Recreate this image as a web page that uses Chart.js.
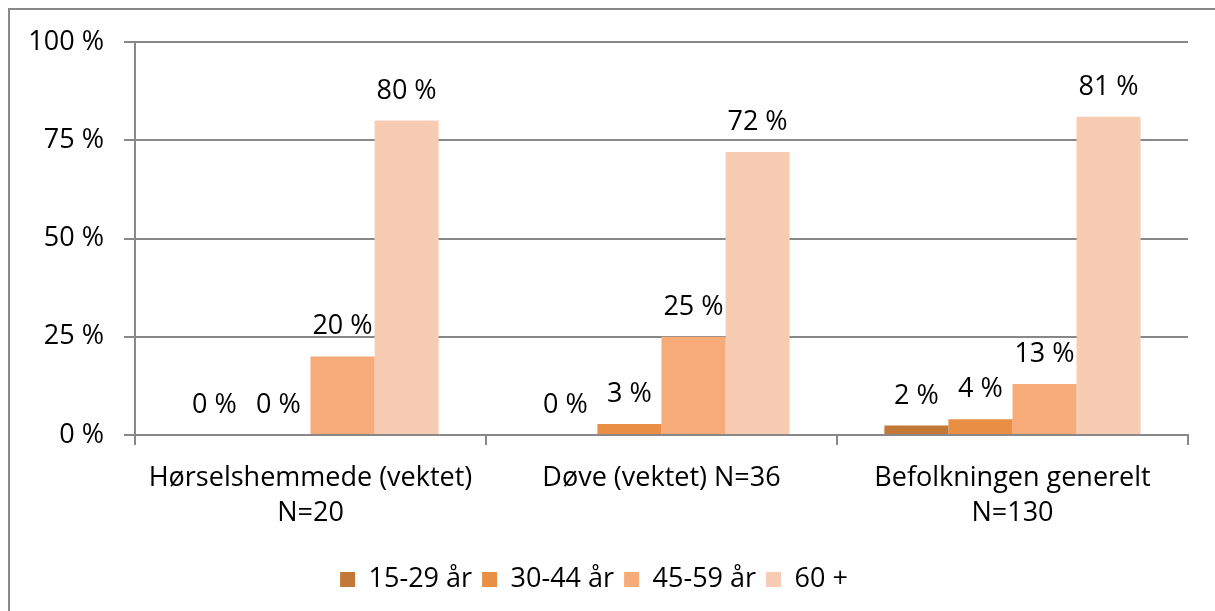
<!DOCTYPE html>
<html>
<head>
<meta charset="utf-8">
<script src="https://cdn.jsdelivr.net/npm/chart.js@4"></script>
<style>
  html, body { margin: 0; padding: 0; background: #fff; }
  #wrap { position: relative; width: 1215px; height: 611px; overflow: hidden; }
  #frame { position: absolute; left: 8px; top: 8px; width: 1300px; height: 700px;
           border-left: 2px solid #888; border-top: 2px solid #888; }
  canvas { position: absolute; left: 0; top: 0; }
</style>
</head>
<body>
<div id="wrap">
  <div id="frame"></div>
  <canvas id="chart" width="1215" height="611"></canvas>
</div>
<script>
const kategorier = [
  ['Hørselshemmede (vektet)', 'N=20'],
  ['Døve (vektet) N=36'],
  ['Befolkningen generelt', 'N=130']
];
const serier = ['15-29 år', '30-44 år', '45-59 år', '60 +'];
const alder15_29 = [0, 0, 2.4];
const alder30_44 = [0, 2.8, 4];
const alder45_59 = [20, 25, 13];
const alder60 = [80, 72, 81];
const etiketter = [
  ['0 %', '0 %', '2 %'],
  ['0 %', '3 %', '4 %'],
  ['20 %', '25 %', '13 %'],
  ['80 %', '72 %', '81 %']
];
const farger = ['#C47838', '#E88E45', '#F6AB79', '#F8CBB3'];
const yTicks = [0, 25, 50, 75, 100];

const FONT = '"Open Sans", Lato, sans-serif';
const FS = 27;

const verdiEtiketter = {
  id: 'verdiEtiketter',
  afterDatasetsDraw(chart) {
    const ctx = chart.ctx;
    ctx.save();
    ctx.font = FS + 'px ' + FONT;
    ctx.fillStyle = '#000';
    ctx.textAlign = 'center';
    ctx.textBaseline = 'alphabetic';
    chart.data.datasets.forEach((ds, i) => {
      chart.getDatasetMeta(i).data.forEach((bar, j) => {
        ctx.fillText(etiketter[i][j], bar.x, bar.y - 22);
      });
    });
    ctx.restore();
  }
};

const data = {
  labels: kategorier,
  datasets: [alder15_29, alder30_44, alder45_59, alder60].map((verdier, i) => ({
    label: serier[i],
    data: verdier,
    backgroundColor: farger[i],
    borderWidth: 0,
    categoryPercentage: 0.73,
    barPercentage: 1
  }))
};

new Chart(document.getElementById('chart'), {
  type: 'bar',
  data: data,
  plugins: [verdiEtiketter],
  options: {
    responsive: false,
    animation: false,
    layout: { padding: { top: 42, right: 27, left: 0, bottom: 8 } },
    plugins: {
      tooltip: { enabled: false },
      legend: {
        position: 'bottom',
        labels: {
          font: { family: FONT, size: FS },
          color: '#000',
          boxWidth: 15,
          boxHeight: 15,
          padding: 10
        }
      }
    },
    scales: {
      x: {
        grid: {
          display: true,
          drawOnChartArea: false,
          drawTicks: true,
          tickLength: 10,
          color: '#888',
          lineWidth: 2,
          offset: true
        },
        border: { display: true, color: '#888', width: 2 },
        ticks: {
          font: { family: FONT, size: FS, lineHeight: 1.3 },
          color: '#000',
          padding: 16,
          maxRotation: 0
        },
        afterFit(scale) { scale.height = 121; }
      },
      y: {
        min: 0,
        max: 100,
        afterBuildTicks(scale) { scale.ticks = yTicks.map(v => ({ value: v })); },
        grid: {
          color: '#888',
          lineWidth: 2,
          tickLength: 11
        },
        border: { display: true, color: '#888', width: 2 },
        ticks: {
          font: { family: FONT, size: FS },
          color: '#000',
          padding: 20,
          callback: v => v + ' %'
        },
        afterFit(scale) { scale.width = 135; }
      }
    }
  }
});
</script>
</body>
</html>
